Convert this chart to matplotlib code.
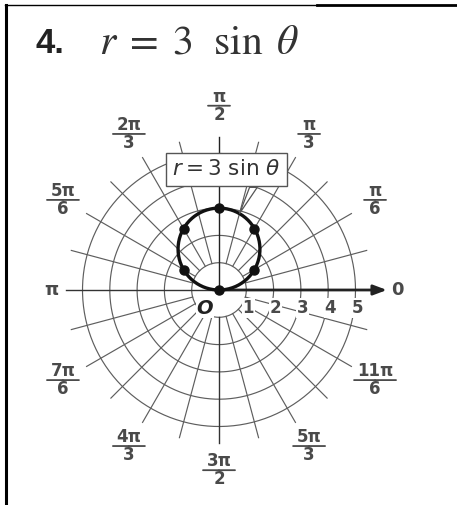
import numpy as np
import matplotlib
matplotlib.use("Agg")
import matplotlib.pyplot as plt
from matplotlib.patches import Polygon
from matplotlib.transforms import offset_copy

# ---- data ----
coef = 3  # r = coef * sin(theta)
point_theta = [0, np.pi / 6, np.pi / 3, np.pi / 2, 2 * np.pi / 3, 5 * np.pi / 6]
point_r = [0.0, 1.5, 2.6, 3.0, 2.6, 1.5]
ring_values = [1, 2, 3, 4, 5]
ring_labels = ["1", "2", "3", "4", "5"]
angle_numerators = ["π", "π", "2π", "5π", "7π", "4π", "3π", "5π", "11π"]
angle_denominators = ["6", "3", "3", "6", "6", "3", "2", "3", "6"]
angle_values = [np.pi / 6, np.pi / 3, 2 * np.pi / 3, 5 * np.pi / 6, 7 * np.pi / 6,
                4 * np.pi / 3, 3 * np.pi / 2, 5 * np.pi / 3, 11 * np.pi / 6]
top_label = ("π", "2")

W, H = 457, 505
fig = plt.figure(figsize=(W / 100, H / 100), dpi=100)
fig.patch.set_facecolor("white")

# polar axes placed so the pole sits at (219, 290) px from top-left
unit = 27.3
R = 5.7
cx, cy = 219, 505 - 290
ax = fig.add_axes([(cx - R * unit) / W, (cy - R * unit) / H,
                   2 * R * unit / W, 2 * R * unit / H], projection="polar")
ax.set_ylim(0, R)
ax.axis("off")

grid_c = "#5e5e5e"
lab_c = "#4a4a4a"
ray_end = 5.6


def polar_of(x, y):
    return np.arctan2(y, x), np.hypot(x, y)


# rings
tt = np.linspace(0, 2 * np.pi, 400)
for rv in ring_values:
    ax.plot(tt, np.full_like(tt, rv), color=grid_c, lw=0.85, clip_on=False, zorder=1)

# rays every 15 degrees
for k in range(1, 24):
    th = k * np.pi / 12
    if k == 12 or k == 6:
        continue
    dark = k == 18
    ax.plot([th, th], [1, ray_end], color="#333333" if dark else grid_c,
            lw=1.0 if dark else 0.85, clip_on=False, zorder=1)
ax.plot([np.pi / 2, np.pi / 2], [0, ray_end], color="#222222", lw=1.0, clip_on=False, zorder=1)
ax.plot([np.pi, np.pi], [0, ray_end], color="#333333", lw=1.0, clip_on=False, zorder=1)

# polar axis with arrow
ax.annotate("", xy=(0, 6.15), xytext=(0, 0), xycoords="data", textcoords="data",
            arrowprops=dict(arrowstyle="-|>,head_length=0.8,head_width=0.3",
                            color="#222222", lw=2.0, shrinkA=0, shrinkB=0),
            annotation_clip=False, zorder=3)

# the curve r = 3 sin(theta)
ct = np.linspace(0, np.pi, 300)
ax.plot(ct, coef * np.sin(ct), color="#111111", lw=2.4, clip_on=False, zorder=4)
ax.plot(point_theta, point_r, "o", color="#111111", ms=6.5, clip_on=False, zorder=5)

# ring labels along the polar axis
for rv, lab in zip(ring_values, ring_labels):
    t = offset_copy(ax.transData, fig=fig, x=2, y=-18, units="dots")
    ax.text(0, rv, lab, transform=t, ha="center", va="center", fontsize=12,
            color=lab_c, fontweight="bold", family="DejaVu Sans",
            bbox=dict(fc="white", ec="none", pad=0.5), zorder=2, clip_on=False)

# pole label
t = offset_copy(ax.transData, fig=fig, x=-14, y=-18, units="dots")
ax.text(0, 0, "O", transform=t, ha="center", va="center", fontsize=14,
        fontweight="bold", fontstyle="italic", color="#222222", family="DejaVu Sans",
        bbox=dict(fc="white", ec="none", pad=0.5), zorder=2, clip_on=False)


def fraction(theta, rad, num, den):
    bar = {1: 22, 2: 32, 3: 42}[len(num)]
    tn = offset_copy(ax.transData, fig=fig, x=0, y=9, units="dots")
    td = offset_copy(ax.transData, fig=fig, x=0, y=-9, units="dots")
    kw = dict(ha="center", va="center", fontsize=12, color=lab_c,
              fontweight="bold", family="DejaVu Sans", clip_on=False)
    ax.text(theta, rad, num, transform=tn, **kw)
    ax.text(theta, rad, den, transform=td, **kw)
    for s in (-1, 1):
        ax.annotate("", xy=(theta, rad), xytext=(s * bar / 2, 0),
                    textcoords="offset pixels",
                    arrowprops=dict(arrowstyle="-", color=lab_c, lw=1.3,
                                    shrinkA=0, shrinkB=0),
                    annotation_clip=False)


for th, n, d in zip(angle_values, angle_numerators, angle_denominators):
    fraction(th, 6.6, n, d)
fraction(np.pi / 2, 6.75, *top_label)

ax.text(0, 6.55, "0", ha="center", va="center", fontsize=13, color=lab_c,
        fontweight="bold", family="DejaVu Sans", clip_on=False)
ax.text(np.pi, 6.15, "π", ha="center", va="center", fontsize=13, color=lab_c,
        fontweight="bold", family="DejaVu Sans", clip_on=False)

# callout label for the curve, with a narrow pointer onto the curve
tip = (np.radians(75), coef * np.sin(np.radians(75)))
pointer = Polygon([polar_of(1.12, 3.76), tip, polar_of(1.40, 3.76)], closed=True,
                  fc="white", ec="#555555", lw=0.9, zorder=6, clip_on=False)
ax.add_patch(pointer)
ax.text(*polar_of(0.27, 4.43), r"$r = 3\ \mathrm{sin}\ \theta$", ha="center", va="center",
        fontsize=15.5, color="#333333", math_fontfamily="dejavusans",
        bbox=dict(boxstyle="square,pad=0.3", fc="white", ec="#555555", lw=1.0),
        zorder=7, clip_on=False)

# heading
fig.text(35 / W, 1 - 53 / H, "4.", fontsize=25, fontweight="bold",
         family="Liberation Sans", color="#222222", ha="left", va="baseline")
fig.text(99 / W, 1 - 53 / H, r"$r\;=\;3\ \ \sin\ \theta$", fontsize=30,
         math_fontfamily="stix", color="#333333", ha="left", va="baseline")

# page frame
fig.add_artist(plt.Line2D([6 / W, 6 / W], [0, 1 - 5 / H], color="black", lw=2.2,
                          transform=fig.transFigure))
fig.add_artist(plt.Line2D([5 / W, 317 / W], [1 - 5 / H, 1 - 5 / H], color="black", lw=1.0,
                          transform=fig.transFigure))
fig.add_artist(plt.Line2D([317 / W, 1], [1 - 5 / H, 1 - 5 / H], color="black", lw=2.0,
                          transform=fig.transFigure))

fig.savefig("out.png", dpi=100)
